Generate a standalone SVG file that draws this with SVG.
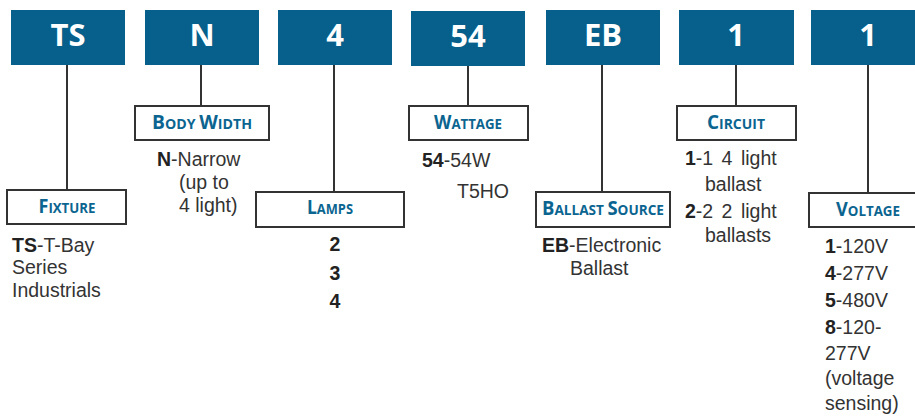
<svg xmlns="http://www.w3.org/2000/svg" width="915" height="416" viewBox="0 0 915 416">
<style>
.code{fill:#06608b;}
.codet{font-family:"Open Sans","DejaVu Sans",sans-serif;font-weight:bold;font-size:31px;fill:#ffffff;text-anchor:middle;}
.lbl{fill:#ffffff;stroke:#333333;stroke-width:2;}
.lt{font-family:"Open Sans","DejaVu Sans",sans-serif;font-weight:bold;fill:#0b6590;text-anchor:middle;font-size:14px;}
.lt .c{font-size:19px;}
.body{font-family:"Liberation Sans",Arial,sans-serif;font-size:19.5px;fill:#333333;}
.b{font-weight:bold;fill:#222222;}
.conn line{stroke:#333333;stroke-width:2;}
</style>
<rect width="915" height="416" fill="#ffffff"/>
<g class="conn">
<line x1="67" y1="65" x2="67" y2="190"/>
<line x1="201" y1="65" x2="201" y2="106"/>
<line x1="334" y1="65" x2="334" y2="192"/>
<line x1="468" y1="65" x2="468" y2="106"/>
<line x1="602" y1="65" x2="602" y2="192"/>
<line x1="736" y1="65" x2="736" y2="106"/>
<line x1="868" y1="65" x2="868" y2="193"/>
</g>
<g id="code-ts"><rect class="code" x="11" y="10" width="114" height="55"/><text class="codet" x="68" y="46">TS</text></g>
<g id="code-n"><rect class="code" x="145" y="10" width="114" height="55"/><text class="codet" x="202" y="46">N</text></g>
<g id="code-4"><rect class="code" x="278" y="10" width="114" height="55"/><text class="codet" x="335" y="46">4</text></g>
<g id="code-54"><rect class="code" x="411" y="11" width="114" height="55"/><text class="codet" x="468" y="47">54</text></g>
<g id="code-eb"><rect class="code" x="546" y="10" width="114" height="55"/><text class="codet" x="603" y="46">EB</text></g>
<g id="code-1a"><rect class="code" x="679" y="10" width="115" height="55"/><text class="codet" x="736" y="46">1</text></g>
<g id="code-1b"><rect class="code" x="811" y="10" width="114" height="55"/><text class="codet" x="868" y="46">1</text></g>

<g id="fixture">
<rect class="lbl" x="7" y="190" width="119" height="34"/>
<text class="lt" x="67" y="213" textLength="57" lengthAdjust="spacingAndGlyphs"><tspan class="c">F</tspan>IXTURE</text>
<text class="body" x="12" y="252"><tspan class="b">TS</tspan>-T-Bay</text>
<text class="body" x="12" y="274">Series</text>
<text class="body" x="12" y="297">Industrials</text>
</g>
<g id="body-width">
<rect class="lbl" x="135" y="106" width="134" height="34"/>
<text class="lt" x="202" y="129" textLength="100" lengthAdjust="spacingAndGlyphs"><tspan class="c">B</tspan>ODY <tspan class="c">W</tspan>IDTH</text>
<text class="body" x="157" y="166"><tspan class="b">N</tspan>-Narrow</text>
<text class="body" x="179" y="189">(up to</text>
<text class="body" x="179" y="212">4 light)</text>
</g>
<g id="lamps">
<rect class="lbl" x="256" y="192" width="148" height="35"/>
<text class="lt" x="330" y="214" textLength="46" lengthAdjust="spacingAndGlyphs"><tspan class="c">L</tspan>AMPS</text>
<text class="body b" x="335" y="251" text-anchor="middle">2</text>
<text class="body b" x="335" y="280" text-anchor="middle">3</text>
<text class="body b" x="335" y="308" text-anchor="middle">4</text>
</g>
<g id="wattage">
<rect class="lbl" x="409" y="106" width="119" height="34"/>
<text class="lt" x="468" y="129" textLength="68" lengthAdjust="spacingAndGlyphs"><tspan class="c">W</tspan>ATTAGE</text>
<text class="body" x="422" y="167"><tspan class="b">54</tspan>-54W</text>
<text class="body" x="457" y="198">T5HO</text>
</g>
<g id="ballast-source">
<rect class="lbl" x="536" y="192" width="134" height="35"/>
<text class="lt" x="603" y="215" textLength="122" lengthAdjust="spacingAndGlyphs"><tspan class="c">B</tspan>ALLAST <tspan class="c">S</tspan>OURCE</text>
<text class="body" x="542" y="252"><tspan class="b">EB</tspan>-Electronic</text>
<text class="body" x="570" y="275">Ballast</text>
</g>
<g id="circuit">
<rect class="lbl" x="677" y="106" width="119" height="34"/>
<text class="lt" x="736" y="129" textLength="58" lengthAdjust="spacingAndGlyphs"><tspan class="c">C</tspan>IRCUIT</text>
<text class="body" x="685" y="165" word-spacing="3"><tspan class="b">1</tspan>-1 4 light</text>
<text class="body" x="705" y="191">ballast</text>
<text class="body" x="685" y="218" word-spacing="3"><tspan class="b">2</tspan>-2 2 light</text>
<text class="body" x="705" y="242">ballasts</text>
</g>
<g id="voltage">
<rect class="lbl" x="809" y="193" width="120" height="34"/>
<text class="lt" x="868" y="216" textLength="64" lengthAdjust="spacingAndGlyphs"><tspan class="c">V</tspan>OLTAGE</text>
<text class="body" x="825" y="253"><tspan class="b">1</tspan>-120V</text>
<text class="body" x="825" y="280"><tspan class="b">4</tspan>-277V</text>
<text class="body" x="825" y="307"><tspan class="b">5</tspan>-480V</text>
<text class="body" x="825" y="334"><tspan class="b">8</tspan>-120-</text>
<text class="body" x="825" y="360">277V</text>
<text class="body" x="825" y="385">(voltage</text>
<text class="body" x="825" y="410">sensing)</text>
</g>
</svg>
